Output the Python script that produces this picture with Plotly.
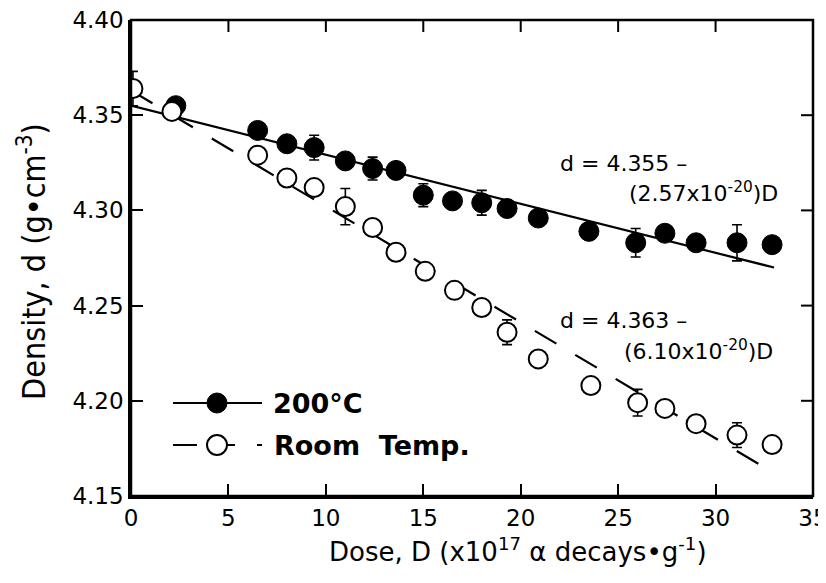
import plotly.graph_objects as go

# ---- data ----
hot_x = [2.3, 6.5, 8.0, 9.4, 11.0, 12.4, 13.6, 15.0, 16.5, 18.0, 19.3, 20.9, 23.5, 25.9, 27.4, 29.0, 31.1, 32.9]
hot_y = [4.355, 4.342, 4.335, 4.333, 4.326, 4.322, 4.321, 4.308, 4.305, 4.304, 4.301, 4.296, 4.289, 4.283, 4.288, 4.283, 4.283, 4.282]
hot_err = [0, 0, 0, 0.0065, 0, 0.006, 0, 0.006, 0, 0.0065, 0, 0, 0, 0.0075, 0, 0, 0.0095, 0]

room_x = [0.1, 2.1, 6.5, 8.0, 9.4, 11.0, 12.4, 13.6, 15.1, 16.6, 18.0, 19.3, 20.9, 23.6, 26.0, 27.4, 29.0, 31.1, 32.9]
room_y = [4.364, 4.352, 4.329, 4.317, 4.312, 4.302, 4.291, 4.278, 4.268, 4.258, 4.249, 4.236, 4.222, 4.208, 4.199, 4.196, 4.188, 4.182, 4.177]
room_err = [0.009, 0, 0, 0, 0, 0.0095, 0, 0, 0, 0, 0, 0.0065, 0, 0, 0.007, 0, 0, 0.0065, 0]

fit_x = [0, 33]
hot_fit_y = [4.355, 4.270]
room_fit_y = [4.363, 4.162]

x_ticks = [0, 5, 10, 15, 20, 25, 30, 35]
y_ticks = [4.15, 4.20, 4.25, 4.30, 4.35, 4.40]
x_range = [0, 35]
y_range = [4.15, 4.40]

FONT = "DejaVu Sans"
NARROW = "DejaVu Sans Condensed, DejaVu Sans"

fig = go.Figure()
fig.add_trace(go.Scatter(x=fit_x, y=hot_fit_y, mode="lines",
                         line=dict(color="black", width=2.2), showlegend=False))
fig.add_trace(go.Scatter(x=fit_x, y=room_fit_y, mode="lines",
                         line=dict(color="black", width=2.2, dash="25px,22px"), showlegend=False))
fig.add_trace(go.Scatter(x=hot_x, y=hot_y, mode="markers",
                         marker=dict(symbol="circle", size=20, color="black",
                                     line=dict(color="black", width=1)),
                         error_y=dict(type="data", array=hot_err, color="black", thickness=1.6, width=5),
                         showlegend=False))
fig.add_trace(go.Scatter(x=room_x, y=room_y, mode="markers",
                         marker=dict(symbol="circle", size=19, color="white",
                                     line=dict(color="black", width=2)),
                         error_y=dict(type="data", array=room_err, color="black", thickness=1.6, width=5),
                         showlegend=False))

# the page adds an 8px body margin; margins are chosen so the plot area lands
# at window pixels x 131..813, y 20..496
OFF = 8
W, H = 826, 583
ml, mr, mt, mb = 123, 21, 12, 95
pw, ph = W - ml - mr, H - mt - mb
def px(xp):
    return (xp - OFF - ml) / pw
def py(yp):
    return (H - mb - (yp - OFF)) / ph

# frame
shapes = [dict(type="rect", xref="paper", yref="paper", x0=0, x1=1, y0=0, y1=1,
               line=dict(color="black", width=2.5), layer="above")]
# inward ticks on the top and right edges
for v in x_ticks[1:-1]:
    shapes.append(dict(type="line", xref="x", yref="paper", ysizemode="pixel", yanchor=1,
                       x0=v, x1=v, y0=0, y1=-12, line=dict(color="black", width=2)))
for v in y_ticks[1:-1]:
    shapes.append(dict(type="line", xref="paper", yref="y", xsizemode="pixel", xanchor=1,
                       x0=0, x1=-12, y0=v, y1=v, line=dict(color="black", width=2)))

# legend drawn as decorations
shapes.append(dict(type="line", xref="paper", yref="paper", x0=px(173), x1=px(262), y0=py(403), y1=py(403),
                   line=dict(color="black", width=2)))
shapes.append(dict(type="circle", xref="paper", yref="paper", xsizemode="pixel", ysizemode="pixel",
                   xanchor=px(217), yanchor=py(403), x0=-10, x1=10, y0=-10, y1=10,
                   fillcolor="black", line=dict(color="black", width=1)))
for a, b in [(173, 197), (227, 235), (257, 262)]:
    shapes.append(dict(type="line", xref="paper", yref="paper", x0=px(a), x1=px(b), y0=py(445), y1=py(445),
                       line=dict(color="black", width=2)))
shapes.append(dict(type="circle", xref="paper", yref="paper", xsizemode="pixel", ysizemode="pixel",
                   xanchor=px(217), yanchor=py(445), x0=-10, x1=10, y0=-10, y1=10,
                   fillcolor="white", line=dict(color="black", width=2)))

annotations = [
    dict(xref="paper", yref="paper", x=px(271), y=py(403), xanchor="left", yanchor="middle",
         text="<b>200°C</b>", showarrow=False, font=dict(family=FONT, size=27, color="black")),
    dict(xref="paper", yref="paper", x=px(272), y=py(445), xanchor="left", yanchor="middle",
         text="<b>Room  Temp.</b>", showarrow=False, font=dict(family=FONT, size=27, color="black")),
    dict(xref="paper", yref="paper", x=px(558), y=py(163), xanchor="left", yanchor="middle",
         text="d = 4.355 –", showarrow=False, font=dict(family=FONT, size=22, color="black")),
    dict(xref="paper", yref="paper", x=px(780), y=py(192), xanchor="right", yanchor="middle",
         text="(2.57x10<sup>-20</sup>)D", showarrow=False, font=dict(family=FONT, size=22, color="black")),
    dict(xref="paper", yref="paper", x=px(558), y=py(320), xanchor="left", yanchor="middle",
         text="d = 4.363 –", showarrow=False, font=dict(family=FONT, size=22, color="black")),
    dict(xref="paper", yref="paper", x=px(775), y=py(350), xanchor="right", yanchor="middle",
         text="(6.10x10<sup>-20</sup>)D", showarrow=False, font=dict(family=FONT, size=22, color="black")),
    # axis titles
    dict(xref="paper", yref="paper", x=px(518), y=py(550), xanchor="center", yanchor="middle",
         text="Dose, D (x10<sup>17</sup> α decays•g<sup>-1</sup>)", showarrow=False,
         font=dict(family=FONT, size=26, color="black")),
    dict(xref="paper", yref="paper", x=px(32), y=py(262), xanchor="center", yanchor="middle",
         textangle=-90, text="Density, d (g•cm<sup>-3</sup>)", showarrow=False,
         font=dict(family=NARROW, size=32, color="black")),
]

axis_common = dict(showgrid=False, zeroline=False, showline=True, linecolor="black", linewidth=2.5,
                   ticks="inside", ticklen=12, tickwidth=2, tickcolor="black",
                   automargin=False, ticklabeloverflow="allow",
                   tickfont=dict(family=FONT, size=23, color="black"))

fig.update_layout(
    width=W, height=H, margin=dict(l=ml, r=mr, t=mt, b=mb),
    paper_bgcolor="white", plot_bgcolor="white",
    xaxis=dict(range=x_range, tickvals=x_ticks, ticktext=[str(v) for v in x_ticks], **axis_common),
    yaxis=dict(range=y_range, tickvals=y_ticks, ticktext=[f"{v:.2f}" for v in y_ticks], **axis_common),
    shapes=shapes, annotations=annotations, showlegend=False,
)

fig.write_html("out.html")
